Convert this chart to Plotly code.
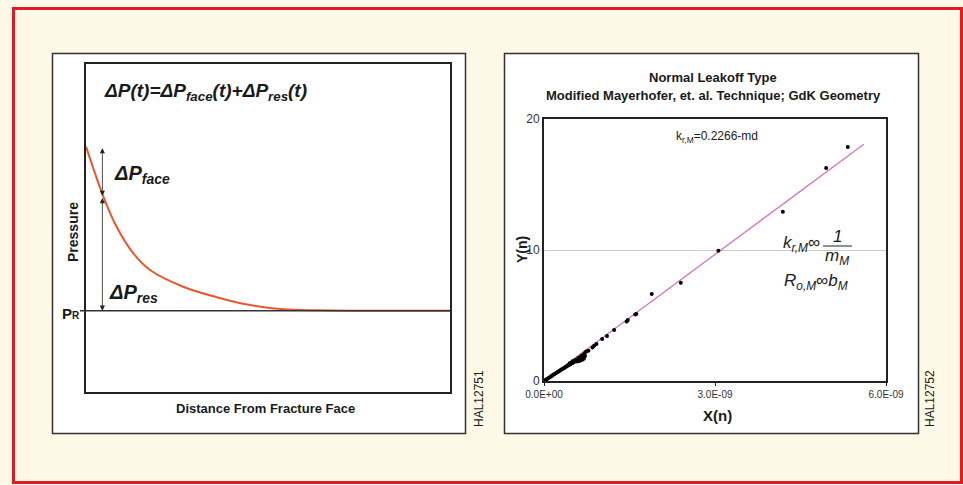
import plotly.graph_objects as go

W, H = 963, 485

# ---------------- data ----------------
# Left panel: pressure profile vs distance (arbitrary units)
distance = [0, 4.8, 8.4, 13.0, 17.6, 26.7, 35.9, 45.1, 54.2, 63.4, 75, 87, 100]
pressure = [74.8, 59.5, 50.4, 42.3, 37.2, 32.1, 28.9, 26.5, 25.2, 24.9, 24.8, 24.8, 24.8]
p_reservoir = 24.8
dp_face_range = [74.8, 59.8]
dp_res_range = [59.6, 24.8]

# Right panel: Y(n) vs X(n)
x_n = [0.02e-9, 0.04e-9, 0.06e-9, 0.08e-9, 0.10e-9, 0.12e-9, 0.14e-9, 0.16e-9,
       0.18e-9, 0.20e-9, 0.22e-9, 0.24e-9, 0.26e-9, 0.28e-9, 0.30e-9, 0.32e-9,
       0.34e-9, 0.36e-9, 0.38e-9, 0.40e-9, 0.42e-9, 0.44e-9, 0.46e-9, 0.48e-9,
       0.50e-9, 0.52e-9, 0.54e-9, 0.56e-9, 0.58e-9, 0.60e-9, 0.62e-9, 0.64e-9,
       0.66e-9, 0.68e-9, 0.70e-9, 0.45e-9, 0.50e-9, 0.55e-9, 0.60e-9, 0.63e-9,
       0.66e-9, 0.58e-9, 0.62e-9, 0.65e-9, 0.68e-9, 0.70e-9, 0.72e-9, 0.74e-9,
       0.72e-9, 0.78e-9, 0.85e-9, 0.88e-9, 0.92e-9, 1.02e-9, 1.105e-9,
       1.23e-9, 1.45e-9, 1.47e-9, 1.60e-9, 1.62e-9, 1.89e-9, 2.40e-9, 3.06e-9,
       4.19e-9, 4.95e-9, 5.33e-9]
y_n = [0.05, 0.11, 0.17, 0.23, 0.29, 0.35, 0.41, 0.47,
       0.52, 0.58, 0.63, 0.69, 0.74, 0.80, 0.85, 0.91,
       0.96, 1.02, 1.07, 1.12, 1.18, 1.23, 1.28, 1.33,
       1.38, 1.43, 1.48, 1.53, 1.57, 1.62, 1.68, 1.74,
       1.80, 1.90, 2.05, 1.35, 1.50, 1.62, 1.75, 1.82,
       1.95, 1.48, 1.52, 1.58, 1.64, 1.72, 1.90, 2.25,
       2.15, 2.30, 2.55, 2.70, 2.82, 3.20, 3.44,
       3.89, 4.55, 4.65, 5.08, 5.12, 6.64, 7.50, 9.95,
       12.92, 16.26, 17.86]
fit_x = [0.0, 5.61e-9]
fit_y = [0.0, 18.07]
x_ticks = [0, 3e-9, 6e-9]
x_ticktext = ["0.0E+00", "3.0E-09", "6.0E-09"]
y_ticks = [0, 10, 20]

FONT = "Liberation Sans Narrow, Arial Narrow, Liberation Sans, Arial, sans-serif"
SANS = "Liberation Sans, Arial, sans-serif"

def px(x):
    return x / W

def py(y):
    return 1 - y / H

fig = go.Figure()

fig.add_trace(go.Scatter(x=distance, y=pressure, mode="lines", line=dict(color="#e8572c", width=2, shape="spline"),
                         xaxis="x", yaxis="y", showlegend=False, hoverinfo="skip"))
fig.add_trace(go.Scatter(x=fit_x, y=fit_y, mode="lines", line=dict(color="#d474c4", width=1.3),
                         xaxis="x2", yaxis="y2", showlegend=False, hoverinfo="skip"))
fig.add_trace(go.Scatter(x=x_n, y=y_n, mode="markers", marker=dict(color="black", size=4),
                         xaxis="x2", yaxis="y2", showlegend=False, hoverinfo="skip"))

shapes = [
    dict(type="rect", xref="paper", yref="paper", x0=px(13.5), x1=px(961.5), y0=py(482.5), y1=py(8.5),
         line=dict(color="#e01b22", width=3), layer="below"),
    dict(type="rect", xref="paper", yref="paper", x0=px(52.5), x1=px(465.5), y0=py(433.5), y1=py(53.5),
         line=dict(color="#333333", width=1.5), fillcolor="white", layer="below"),
    dict(type="rect", xref="paper", yref="paper", x0=px(504.5), x1=px(918.5), y0=py(433.5), y1=py(53.5),
         line=dict(color="#333333", width=1.5), fillcolor="white", layer="below"),
    dict(type="line", xref="paper", yref="y", x0=px(80), x1=px(450), y0=p_reservoir, y1=p_reservoir,
         line=dict(color="#333333", width=1.5)),
    dict(type="line", xref="paper", yref="paper", x0=px(823), x1=px(852), y0=py(246), y1=py(246),
         line=dict(color="#222222", width=1)),
]

ann = []
for rng in (dp_face_range, dp_res_range):
    ann.append(dict(x=4.5, y=rng[1], ax=4.5, ay=rng[0], xref="x", yref="y", axref="x", ayref="y",
                    showarrow=True, arrowhead=2, startarrowhead=2, arrowside="end+start", arrowsize=1.3,
                    startarrowsize=1.3, arrowwidth=0.8, arrowcolor="#222", text=""))

def txt(x, y, text, size, xanchor="center", yanchor="middle", family=FONT, color="#1a1a1a", angle=0):
    ann.append(dict(x=px(x), y=py(y), xref="paper", yref="paper", text=text, showarrow=False,
                    font=dict(size=size, family=family, color=color), xanchor=xanchor, yanchor=yanchor,
                    textangle=angle))

txt(102, 92, "<b><i>ΔP(t)=ΔP<sub>face</sub>(t)+ΔP<sub>res</sub>(t)</i></b>", 19, xanchor="left")
txt(112, 174, "<b><i>ΔP<sub>face</sub></i></b>", 20, xanchor="left")
txt(107, 293, "<b><i>ΔP<sub>res</sub></i></b>", 20, xanchor="left")
txt(71, 313, "<b>P<span style='font-size:10px'>R</span></b>", 15)
txt(73, 232, "<b>Pressure</b>", 14, angle=-90)
txt(265, 408, "<b>Distance From Fracture Face</b>", 13)
txt(479, 399, "HAL12751", 12, family=SANS, angle=-90)

txt(713, 77, "<b>Normal Leakoff Type</b>", 13)
txt(713, 96, "<b>Modified Mayerhofer, et. al. Technique; GdK Geometry</b>", 13)
txt(717, 137, "k<sub>r,M</sub>=0.2266-md", 12, family=SANS)
txt(822, 244, "<i>k</i><sub><i>r,M</i></sub>∞", 17, xanchor="right", family=SANS)
txt(837, 236, "<i>1</i>", 17, family=SANS)
txt(837, 257, "<i>m</i><sub><i>M</i></sub>", 17, family=SANS)
txt(782, 282, "<i>R</i><sub><i>o,M</i></sub>∞<i>b</i><sub><i>M</i></sub>", 17, xanchor="left", family=SANS)
txt(522, 250, "<b>Y(n)</b>", 14, angle=-90)
txt(717, 415, "<b>X(n)</b>", 15)
txt(930, 399, "HAL12752", 12, family=SANS, angle=-90)

fig.update_layout(
    width=W, height=H, autosize=False, margin=dict(l=0, r=0, t=0, b=0, pad=0, autoexpand=False),
    paper_bgcolor="#fdf9e6", plot_bgcolor="white",
    shapes=shapes, annotations=ann,
    xaxis=dict(domain=[px(86), px(450)], range=[0, 100], showgrid=False, zeroline=False,
               showticklabels=False, ticks="", showline=True, mirror=True, linecolor="#222", linewidth=1.5,
               fixedrange=True),
    yaxis=dict(domain=[py(392), py(64)], range=[0, 100], showgrid=False, zeroline=False,
               showticklabels=False, ticks="", showline=True, mirror=True, linecolor="#222", linewidth=1.5,
               fixedrange=True),
    xaxis2=dict(domain=[px(544), px(886)], range=[0, 6e-9], tickvals=x_ticks, ticktext=x_ticktext,
                showgrid=False, zeroline=False, showline=True, mirror=True, linecolor="#222", linewidth=2,
                ticks="outside", ticklen=3, tickcolor="#222", anchor="y2",
                tickfont=dict(size=10, family=SANS, color="#333"), fixedrange=True),
    yaxis2=dict(domain=[py(381), py(119)], range=[0, 20], tickvals=y_ticks, showgrid=True, gridcolor="#cccccc",
                gridwidth=1, zeroline=False, showline=True, mirror=True, linecolor="#222", linewidth=2,
                ticks="", anchor="x2", tickfont=dict(size=12, family=SANS, color="#333"), fixedrange=True),
)

fig.write_html("out.html", config={"responsive": False, "displayModeBar": False},
               post_script="document.body.style.margin='0px';document.body.style.overflow='hidden';")
